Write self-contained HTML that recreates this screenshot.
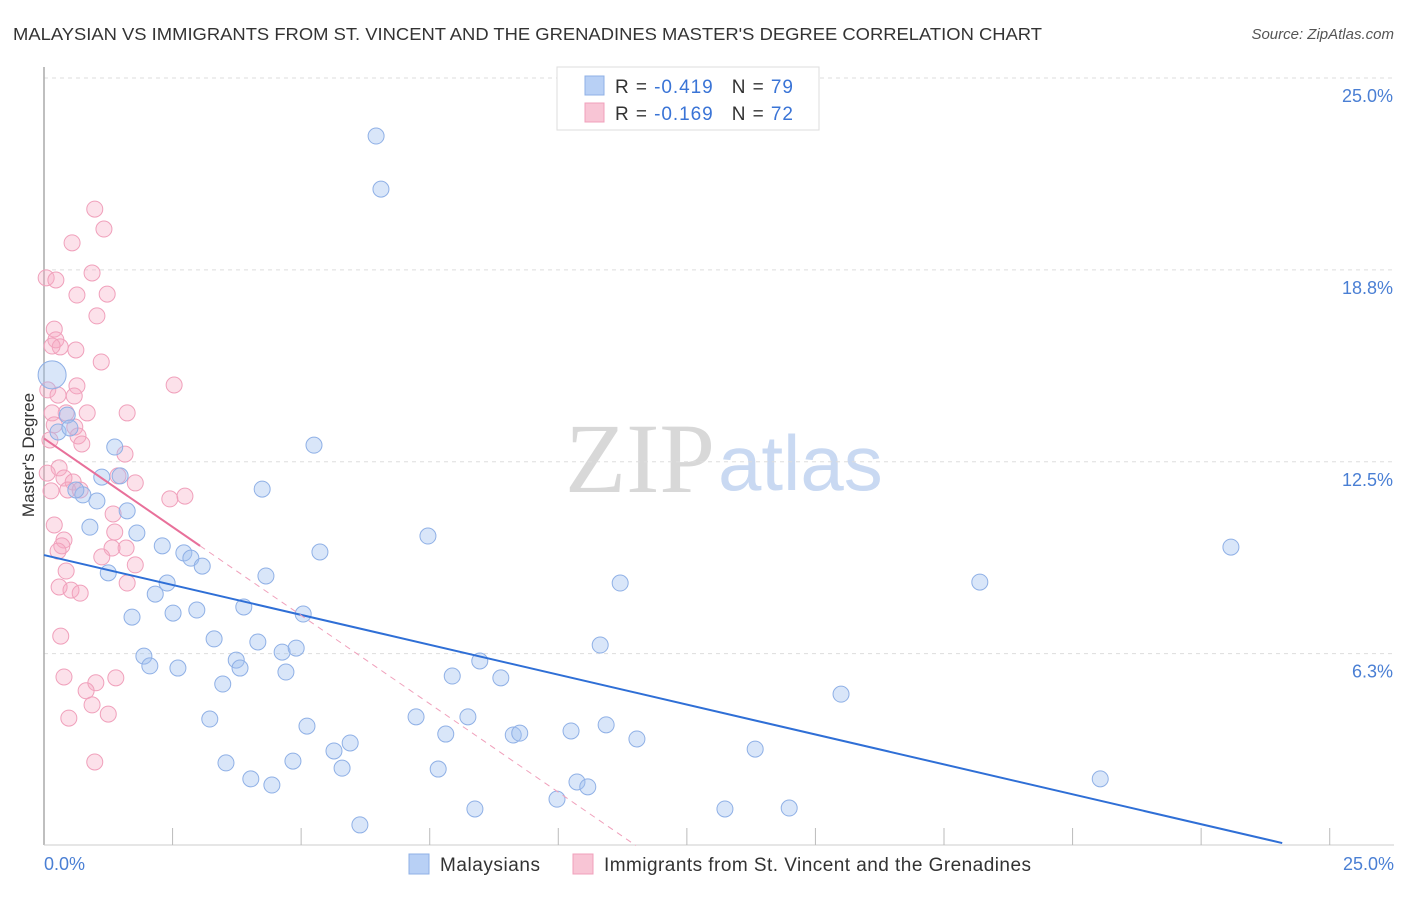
<!DOCTYPE html>
<html><head><meta charset="utf-8"><style>
body{margin:0;background:#fff;font-family:"Liberation Sans",sans-serif;}
#wrap{position:relative;width:1406px;height:892px;}
</style></head><body>
<div id="wrap">
<svg id="svg" width="1406" height="892" xmlns="http://www.w3.org/2000/svg">
<text x="13" y="40" font-size="17.5" fill="#333" textLength="1029" lengthAdjust="spacingAndGlyphs">MALAYSIAN VS IMMIGRANTS FROM ST. VINCENT AND THE GRENADINES MASTER'S DEGREE CORRELATION CHART</text>
<text x="1394" y="39" font-size="15" fill="#555" font-style="italic" text-anchor="end">Source: ZipAtlas.com</text>
<text x="715" y="492" font-size="100" fill="#d8d8d8" text-anchor="end" font-family="Liberation Serif,serif">ZIP</text>
<text x="718" y="490" font-size="78" fill="#c9d9f2">atlas</text>
<text transform="translate(34,455) rotate(-90)" font-size="17" fill="#333" text-anchor="middle">Master's Degree</text>
<g id="grid"></g><g id="pts"></g><g id="lines"></g>
<rect x="557" y="67" width="262" height="63" fill="#fff" stroke="#ddd"/>
<rect x="585" y="76" width="19" height="19" fill="#b8d0f5" stroke="#8fb0e6"/>
<rect x="585" y="103" width="19" height="19" fill="#f8c5d5" stroke="#f0a0bb"/>
<text x="615" y="93" font-size="19" fill="#333" textLength="178">R = <tspan fill="#3a74d6">-0.419</tspan>   <tspan dx="12">N = </tspan><tspan fill="#3a74d6">79</tspan></text>
<text x="615" y="120" font-size="19" fill="#333" textLength="178">R = <tspan fill="#3a74d6">-0.169</tspan>   <tspan dx="12">N = </tspan><tspan fill="#3a74d6">72</tspan></text>
<rect x="409" y="854" width="20" height="20" fill="#b8d0f5" stroke="#8fb0e6"/>
<text x="440" y="871" font-size="19" fill="#333" textLength="100">Malaysians</text>
<rect x="573" y="854" width="20" height="20" fill="#f8c5d5" stroke="#f0a0bb"/>
<text x="604" y="871" font-size="19" fill="#333" textLength="427">Immigrants from St. Vincent and the Grenadines</text>
<text x="44" y="870" font-size="18" fill="#4a7fd4">0.0%</text>
<text x="1394" y="870" font-size="18" fill="#4a7fd4" text-anchor="end">25.0%</text>
</svg></div>
<script>
const yTicks=[25,18.75,12.5,6.25];
const yTickLabels=["25.0%","18.8%","12.5%","6.3%"];
const xTickStep=25/10.5;
const blueX=[6.15,6.24,0.15,0.43,0.26,0.48,1.31,5.00,0.72,0.98,0.59,1.07,1.41,0.85,1.54,1.72,4.04,7.11,2.19,2.59,2.72,2.93,5.11,1.19,4.11,2.28,2.06,10.67,17.33,21.98,1.63,2.39,2.83,3.70,4.80,3.15,3.96,4.41,4.67,10.30,1.85,1.96,2.48,3.56,3.63,4.48,8.07,7.56,8.46,3.31,14.76,3.07,4.87,6.89,7.85,7.44,8.69,8.81,9.76,10.41,10.98,5.67,5.37,13.17,3.37,4.61,5.52,7.30,3.83,4.22,9.87,10.07,19.56,9.50,7.98,12.61,13.80,5.85];
const blueY=[23.11,21.38,15.33,14.02,13.47,13.60,12.98,13.04,11.42,11.22,11.58,12.00,12.04,10.37,10.90,10.18,11.61,10.08,9.76,9.53,9.36,9.10,9.56,8.88,8.78,8.55,8.19,8.55,8.58,9.72,7.44,7.57,7.67,7.77,7.54,6.73,6.63,6.30,6.43,6.53,6.17,5.85,5.78,6.04,5.78,5.65,6.01,5.52,5.46,5.26,4.93,4.12,3.89,4.19,4.19,3.63,3.60,3.66,3.73,3.93,3.47,3.34,3.08,3.14,2.69,2.75,2.52,2.49,2.17,1.97,2.07,1.91,2.17,1.51,1.19,1.19,1.22,0.67];
const pinkX=[0.94,1.11,0.52,0.04,0.22,0.89,0.61,1.17,0.98,0.19,0.22,0.30,0.59,0.15,1.06,2.41,0.61,0.07,0.26,0.56,1.54,0.41,0.80,0.15,0.19,0.57,0.63,0.70,0.11,1.50,0.28,0.06,0.37,0.54,1.37,1.69,0.44,0.13,0.67,2.61,2.33,1.28,0.19,1.31,0.37,0.33,1.52,1.26,1.07,0.26,1.69,0.41,1.54,0.28,0.50,0.67,0.31,0.37,1.33,0.96,0.78,0.89,0.46,1.19,0.94];
const pinkY=[20.73,20.08,19.63,18.49,18.42,18.65,17.93,17.96,17.25,16.82,16.47,16.24,16.14,16.27,15.75,15.00,14.97,14.84,14.67,14.64,14.09,14.09,14.09,14.09,13.70,13.63,13.34,13.08,13.21,12.75,12.30,12.13,11.97,11.84,12.04,11.81,11.58,11.55,11.58,11.38,11.29,10.80,10.44,10.21,9.95,9.76,9.69,9.69,9.40,9.59,9.14,8.94,8.55,8.42,8.32,8.22,6.82,5.49,5.46,5.30,5.04,4.58,4.15,4.28,2.72];
const blueTrend=[0,9.46,22.93,0.08];
const pinkTrend=[0,13.26,2.89,9.76,10.96,0];
const X=v=>44+v*54, Y=v=>845.5-v*30.7;
const NS="http://www.w3.org/2000/svg";
function mk(t,a,p){const e=document.createElementNS(NS,t);for(const k in a)e.setAttribute(k,a[k]);p.appendChild(e);return e;}
const grid=document.getElementById('grid');
yTicks.forEach((t,i)=>{
 const l=mk('line',{x1:44,x2:1394,y1:Y(t),y2:Y(t),stroke:'#ddd','stroke-dasharray':'4,4'},grid);
 
 
 const tx=mk('text',{x:1393,y:Y(t)+24,'font-size':18,fill:'#4a7fd4','text-anchor':'end'},grid);
 tx.textContent=yTickLabels[i];
 
 
});
const ax=mk('line',{x1:44,x2:44,y1:67,y2:845,stroke:'#aaa','stroke-width':1.5},grid);


const bx=mk('line',{x1:44,x2:1394,y1:845,y2:845,stroke:'#ccc'},grid);


for(let i=1;i<=10;i++){
 const t=mk('line',{x1:X(i*xTickStep),x2:X(i*xTickStep),y1:828,y2:845,stroke:'#bbb'},grid);
 
 
}
const pts=document.getElementById('pts');
pinkX.forEach((x,i)=>{
 const c=mk('circle',{cx:X(x),cy:Y(pinkY[i]),r:8,fill:'rgba(246,170,196,0.35)',stroke:'#f0a0bb','stroke-width':1},pts);
 
 
});
blueX.forEach((x,i)=>{
 const c=mk('circle',{cx:X(x),cy:Y(blueY[i]),r:i==2?14:8,fill:'rgba(160,192,240,0.4)',stroke:'#8fb0e6','stroke-width':1},pts);
 
 
});
const lines=document.getElementById('lines');
const b=mk('line',{x1:X(blueTrend[0]),y1:Y(blueTrend[1]),x2:X(blueTrend[2]),y2:Y(blueTrend[3]),stroke:'#2f6fd6','stroke-width':2},lines);


const pd=mk('line',{x1:X(pinkTrend[2]),y1:Y(pinkTrend[3]),x2:X(pinkTrend[4]),y2:Y(pinkTrend[5]),stroke:'#f0a0bb','stroke-width':1,'stroke-dasharray':'6,5'},lines);


const p=mk('line',{x1:X(pinkTrend[0]),y1:Y(pinkTrend[1]),x2:X(pinkTrend[2]),y2:Y(pinkTrend[3]),stroke:'#e8709a','stroke-width':2},lines);


</script>
</body></html>
